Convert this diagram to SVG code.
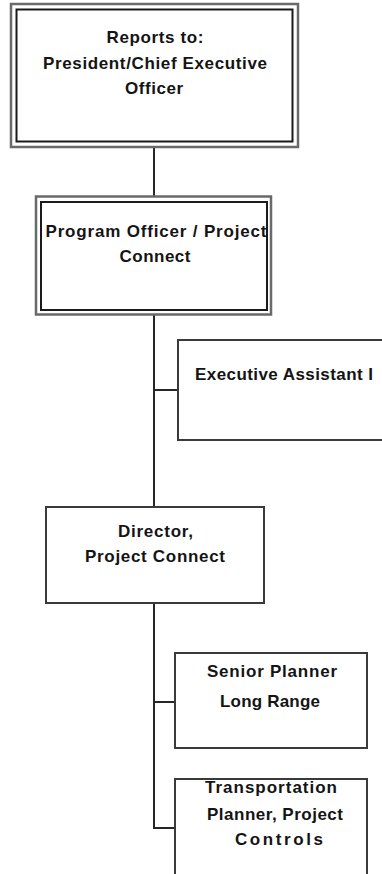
<svg xmlns="http://www.w3.org/2000/svg" width="382" height="874" viewBox="0 0 382 874">
<style>
  .bg{fill:#ffffff}
  .outer{fill:none;stroke:#6a6a6a;stroke-width:2.5}
  .inner{fill:#ffffff;stroke:#1a1a1a;stroke-width:2}
  .box{fill:#ffffff;stroke:#3a3a3a;stroke-width:2}
  .lbl{font-family:"Liberation Sans",Arial,sans-serif;font-weight:bold;font-size:17px;fill:#141414;text-anchor:middle}
  .conn{fill:none;stroke:#262626;stroke-width:2}
</style>
<rect class="bg" x="0" y="0" width="382" height="874"/>
<g id="connectors">
  <line class="conn" x1="154" y1="147" x2="154" y2="196"/>
  <line class="conn" x1="154" y1="315" x2="154" y2="507"/>
  <line class="conn" x1="153" y1="390" x2="178" y2="390" stroke="#6e6e6e"/>
  <line class="conn" x1="154" y1="603" x2="154" y2="829"/>
  <line class="conn" x1="153" y1="702" x2="175" y2="702"/>
  <line class="conn" x1="153" y1="828" x2="175" y2="828"/>
</g>
<g id="ceo">
  <rect class="outer" x="11" y="4" width="287" height="143"/>
  <rect class="inner" x="16.5" y="9.5" width="276" height="132"/>
  <text class="lbl" x="155" y="43" textLength="97">Reports to:</text>
  <text class="lbl" x="155" y="69" textLength="224">President/Chief Executive</text>
  <text class="lbl" x="154" y="94" textLength="58">Officer</text>
</g>
<g id="program-officer">
  <rect class="outer" x="36" y="196.5" width="235" height="118"/>
  <rect class="inner" x="41" y="202" width="226" height="108"/>
  <text class="lbl" x="156" y="237" textLength="221">Program Officer / Project</text>
  <text class="lbl" x="155" y="262" textLength="71">Connect</text>
</g>
<g id="executive-assistant">
  <rect class="box" x="178" y="340" width="220" height="100"/>
  <text class="lbl" x="284" y="380" textLength="178">Executive Assistant I</text>
</g>
<g id="director">
  <rect class="box" x="46" y="507" width="218" height="96"/>
  <text class="lbl" x="155.5" y="537" textLength="75">Director,</text>
  <text class="lbl" x="155" y="562" textLength="140">Project Connect</text>
</g>
<g id="senior-planner">
  <rect class="box" x="175" y="653" width="192" height="95"/>
  <text class="lbl" x="272" y="677" textLength="130">Senior Planner</text>
  <text class="lbl" x="270" y="707" textLength="100">Long Range</text>
</g>
<g id="transportation-planner">
  <rect class="box" x="175" y="779" width="192" height="100"/>
  <text class="lbl" x="271" y="793" textLength="132">Transportation</text>
  <text class="lbl" x="275" y="820" textLength="136">Planner, Project</text>
  <text class="lbl" x="279" y="845" textLength="88">Controls</text>
</g>
</svg>
